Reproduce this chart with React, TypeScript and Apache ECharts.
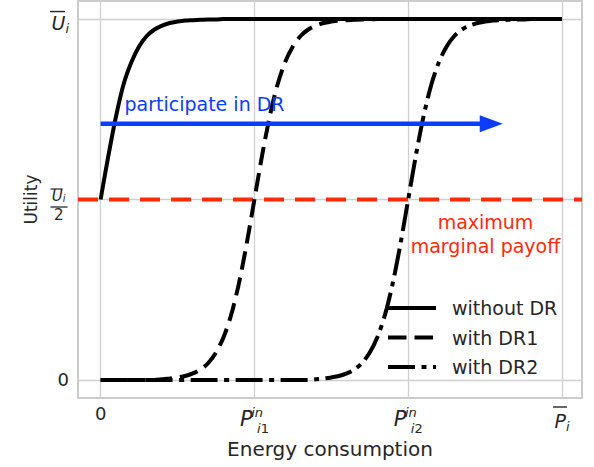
import { useEffect, useRef } from 'react';
import * as echarts from 'echarts';

// Energy consumption sample points (x axis, in units of the tick spacing)
const ENERGY = [
  0, 0.05, 0.1, 0.15, 0.2, 0.25, 0.3, 0.35, 0.4, 0.45,
  0.5, 0.55, 0.6, 0.65, 0.7, 0.75, 0.8, 0.85, 0.9, 0.95,
  1, 1.05, 1.1, 1.15, 1.2, 1.25, 1.3, 1.35, 1.4, 1.45,
  1.5, 1.55, 1.6, 1.65, 1.7, 1.75, 1.8, 1.85, 1.9, 1.95,
  2, 2.05, 2.1, 2.15, 2.2, 2.25, 2.3, 2.35, 2.4, 2.45,
  2.5, 2.55, 2.6, 2.65, 2.7, 2.75, 2.8, 2.85, 2.9, 2.95,
  3,
];

// Utility (fraction of U_i)
const WITHOUT_DR = [
  0.5, 0.62, 0.73, 0.82, 0.88, 0.924, 0.953, 0.971, 0.982, 0.989,
  0.993, 0.996, 0.997, 0.998, 0.999, 0.999, 1, 1, 1, 1,
  1, 1, 1, 1, 1, 1, 1, 1, 1, 1,
  1, 1, 1, 1, 1, 1, 1, 1, 1, 1,
  1, 1, 1, 1, 1, 1, 1, 1, 1, 1,
  1, 1, 1, 1, 1, 1, 1, 1, 1, 1,
  1,
];
const WITH_DR1 = [
  0, 0, 0, 0, 0, 0, 0, 0, 0.002, 0.004,
  0.007, 0.011, 0.018, 0.029, 0.047, 0.076, 0.119, 0.182, 0.269, 0.378,
  0.5, 0.622, 0.731, 0.818, 0.881, 0.924, 0.953, 0.971, 0.982, 0.989,
  0.993, 0.996, 0.997, 0.998, 0.999, 0.999, 1, 1, 1, 1,
  1, 1, 1, 1, 1, 1, 1, 1, 1, 1,
  1, 1, 1, 1, 1, 1, 1, 1, 1, 1,
  1,
];
const WITH_DR2 = [
  0, 0, 0, 0, 0, 0, 0, 0, 0, 0,
  0, 0, 0, 0, 0, 0, 0, 0, 0, 0,
  0, 0, 0, 0, 0, 0, 0, 0, 0.002, 0.004,
  0.007, 0.011, 0.018, 0.029, 0.047, 0.076, 0.119, 0.182, 0.269, 0.378,
  0.5, 0.622, 0.731, 0.818, 0.881, 0.924, 0.953, 0.971, 0.982, 0.989,
  0.993, 0.996, 0.997, 0.998, 0.999, 0.999, 1, 1, 1, 1,
  1,
];

const SERIES_NAMES = ['without DR', 'with DR1', 'with DR2'];
const X_TICKS = [0, 1, 2, 3];
const Y_TICKS = [0, 0.5, 1];
const X_RANGE = [-0.147, 3.13];
const Y_RANGE = [-0.05, 1.05];
const HALF_UTILITY = 0.5;
const ARROW_Y = 0.71;
const ARROW_X = [0, 2.54];

const X_AXIS_NAME = 'Energy consumption';
const Y_AXIS_NAME = 'Utility';
const ARROW_TEXT = 'participate in DR';
const PAYOFF_TEXT = 'maximum\nmarginal payoff';

const TXT = '#262626';
const BLUE = '#0b3cff';
const RED = '#ff2a0a';
const FF = 'DejaVu Sans';
const CLEAR = 'rgba(0,0,0,0)';

export default function App() {
  const ref = useRef<HTMLDivElement>(null);

  useEffect(() => {
    const chart = echarts.init(ref.current!, null, { renderer: 'svg' });
    const pairs = (ys: number[]) => ENERGY.map((x, i) => [x, ys[i]]);
    const dashes: any[] = ['solid', [18.5, 8], [27, 6.5, 5, 6.5]];
    const curves = [WITHOUT_DR, WITH_DR1, WITH_DR2];

    const xLabel = (v: number) => {
      if (v === X_TICKS[0]) return '{n|0}';
      if (v === X_TICKS[1]) return '{P|P}{pg|\u00a0}{sup|in}{subi|i}{sub1|1}';
      if (v === X_TICKS[2]) return '{P|P}{pg|\u00a0}{sup|in}{subi|i}{sub1|2}';
      return '{ob|\u00a0}{ogap|\u00a0}\n{Pb|P}{ps|i}';
    };
    const yLabel = (v: number) => {
      if (v === Y_TICKS[0]) return '{n|0}';
      if (v === Y_TICKS[1])
        return '{sp|\u00a0}\n{fob|\u00a0}{fogap|\u00a0}\n{fU|U}{fs|i}{fg1|\u00a0}\n{bar|\u00a0}{fg2|\u00a0}\n{d|2}{fg3|\u00a0}';
      return '{ob|\u00a0}{ogap|\u00a0}\n{U|U}{s|i}';
    };

    const base = { fontFamily: FF, color: TXT };
    const it = { fontFamily: FF, color: TXT, fontStyle: 'italic' };

    chart.setOption({
      animation: false,
      backgroundColor: '#ffffff',
      textStyle: { fontFamily: FF, color: TXT },
      grid: {
        left: 78, right: 12, top: 1, bottom: 69,
        show: true, borderColor: '#cccccc', borderWidth: 2, backgroundColor: '#ffffff',
        outerBoundsMode: 'none',
      },
      xAxis: {
        type: 'value', min: X_RANGE[0], max: X_RANGE[1],
        name: X_AXIS_NAME, nameLocation: 'middle', nameGap: 41,
        nameTextStyle: { fontFamily: FF, fontSize: 20, color: TXT },
        axisLine: { show: false },
        axisTick: { show: false, customValues: X_TICKS },
        splitLine: { show: true, lineStyle: { color: '#d0d0d0', width: 1.3 } },
        axisLabel: {
          customValues: X_TICKS, margin: 5, formatter: xLabel,
          rich: {
            n: { ...base, fontSize: 18, lineHeight: 20 },
            P: { ...it, fontSize: 21, lineHeight: 32 },
            pg: { width: 4.5, lineHeight: 32 },
            sup: { ...it, fontSize: 13, width: 0, height: 18, verticalAlign: 'top' },
            subi: { ...it, fontSize: 13, height: 14, verticalAlign: 'bottom' },
            sub1: { ...base, fontSize: 13, height: 14, verticalAlign: 'bottom' },
            ob: { width: 14, height: 1.4, lineHeight: 8, backgroundColor: TXT },
            ogap: { width: 4, lineHeight: 8 },
            Pb: { ...it, fontSize: 19, lineHeight: 20 },
            ps: { ...it, fontSize: 13, height: 10, verticalAlign: 'bottom' },
          },
        },
      },
      yAxis: {
        type: 'value', min: Y_RANGE[0], max: Y_RANGE[1],
        name: Y_AXIS_NAME, nameLocation: 'middle', nameGap: 37, nameRotate: 90,
        nameTextStyle: { fontFamily: FF, fontSize: 17, color: TXT },
        axisLine: { show: false },
        axisTick: { show: false, customValues: Y_TICKS },
        splitLine: { show: true, lineStyle: { color: '#d0d0d0', width: 1.3 } },
        axisLabel: {
          customValues: Y_TICKS, margin: 9, formatter: yLabel,
          rich: {
            n: { ...base, fontSize: 18, lineHeight: 20 },
            ob: { width: 15, height: 1.4, lineHeight: 8, backgroundColor: TXT },
            ogap: { width: 4, lineHeight: 8 },
            U: { ...it, fontSize: 19, lineHeight: 15 },
            s: { ...it, fontSize: 13, height: 5, verticalAlign: 'bottom' },
            sp: { lineHeight: 4, fontSize: 4 },
            fob: { width: 12, height: 1.2, lineHeight: 4, backgroundColor: TXT },
            fogap: { width: 6.5, lineHeight: 4 },
            fU: { ...it, fontSize: 15, lineHeight: 9 },
            fs: { ...it, fontSize: 10, height: 4, verticalAlign: 'bottom' },
            fg1: { width: 3.5, lineHeight: 9 },
            bar: { width: 17, height: 1.3, lineHeight: 14, backgroundColor: TXT },
            fg2: { width: 1.5, lineHeight: 14 },
            d: { ...base, fontSize: 15, lineHeight: 2 },
            fg3: { width: 5.5, lineHeight: 2 },
          },
        },
      },
      legend: {
        data: SERIES_NAMES,
        orient: 'vertical', left: 386, top: 297, padding: 0,
        itemWidth: 48, itemHeight: 22, itemGap: 7.5,
        selectedMode: false,
        lineStyle: { width: 4 },
        itemStyle: { color: CLEAR, borderColor: CLEAR, borderWidth: 0, opacity: 0 },
        textStyle: { fontFamily: FF, fontSize: 19, color: TXT, lineHeight: 22, padding: [0, 0, 0, 11] },
      },
      series: [
        {
          type: 'line', name: 'half',
          data: [[X_RANGE[0], HALF_UTILITY], [X_RANGE[1], HALF_UTILITY]],
          symbol: 'none', silent: true,
          lineStyle: { color: RED, width: 4, type: [20, 11] },
          z: 2,
        },
        ...SERIES_NAMES.map((name, i) => ({
          type: 'line', name,
          data: pairs(curves[i]),
          symbol: 'none', showSymbol: false, smooth: 0.3, silent: true,
          itemStyle: { color: '#000000' },
          lineStyle: { color: '#000000', width: 4, type: dashes[i], cap: 'butt' },
          z: 3,
        })),
        {
          type: 'line', name: 'arrow shaft', silent: true, z: 4,
          data: [[ARROW_X[0], ARROW_Y], [ARROW_X[1], ARROW_Y]],
          symbol: 'none',
          lineStyle: { color: BLUE, width: 4.5, type: 'solid', cap: 'butt' },
        },
        {
          type: 'scatter', name: 'arrow head', silent: true, z: 5,
          data: [[ARROW_X[1], ARROW_Y]],
          symbol: 'triangle', symbolRotate: -90, symbolSize: [17, 23],
          itemStyle: { color: BLUE, opacity: 1 },
        },
      ],
      graphic: [
        {
          type: 'text', x: 124.5, y: 104, z: 10,
          style: { text: ARROW_TEXT, fill: BLUE, fontFamily: FF, fontSize: 19, verticalAlign: 'middle' },
        },
        {
          type: 'text', x: 485.5, y: 210, z: 10,
          style: { text: PAYOFF_TEXT, fill: RED, fontFamily: FF, fontSize: 19, align: 'center', verticalAlign: 'top', lineHeight: 24 },
        },
      ],
    });

    return () => chart.dispose();
  }, []);

  return <div ref={ref} style={{ position: 'fixed', left: 0, top: 0, width: 594, height: 467 }} />;
}
